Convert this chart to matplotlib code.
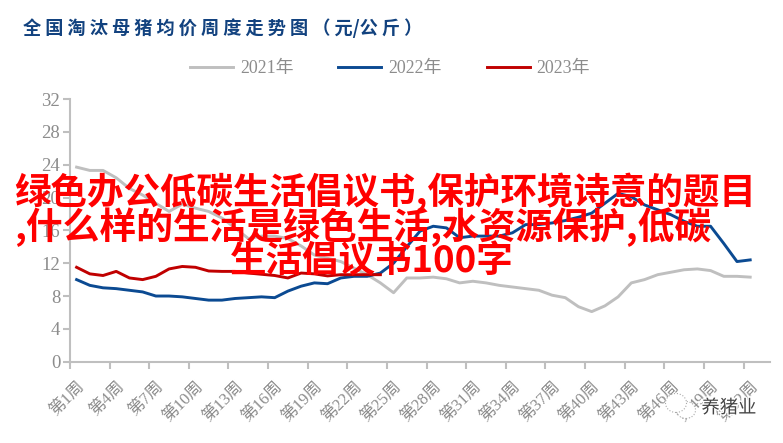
import matplotlib
matplotlib.use("Agg")
import matplotlib.pyplot as plt
import matplotlib.patheffects as pe
import matplotlib.transforms as mtrans
from matplotlib.patches import Ellipse
import numpy as np

SERIF = ['Liberation Serif', 'Noto Sans CJK SC']
CJK = ['Noto Sans CJK SC', 'DejaVu Sans']

title = "全国淘汰母猪均价周度走势图（元/公斤）"
overlay = ["绿色办公低碳生活倡议书,保护环境诗意的题目",
           ",什么样的生活是绿色生活,水资源保护,低碳",
           "生活倡议书100字"]
watermark = "养猪业"

weeks = list(range(1, 54))
y_ticks = [0, 4, 8, 12, 16, 20, 24, 28, 32]

y2021 = [23.7, 23.3, 23.3, 22.4, 21.1, 20.3, 19.3, 18.3, 19.2, 18.7, 18.3, 17.5, 16.3,
         15.0, 15.3, 15.3, 15.0, 14.1, 13.0, 12.6, 12.2, 11.4, 10.6, 9.6, 8.4, 10.2,
         10.2, 10.3, 10.1, 9.6, 9.8, 9.6, 9.3, 9.1, 8.9, 8.7, 8.1, 7.8, 6.7, 6.1,
         6.8, 7.9, 9.6, 10.0, 10.6, 10.9, 11.2, 11.3, 11.1, 10.4, 10.4, 10.3]
y2022 = [10.0, 9.3, 9.0, 8.9, 8.7, 8.5, 8.0, 8.0, 7.9, 7.7, 7.5, 7.5, 7.7, 7.8, 7.9,
         7.8, 8.6, 9.2, 9.6, 9.5, 10.2, 10.4, 10.4, 10.8, 12.0, 14.0, 15.9, 16.5,
         16.3, 15.1, 15.3, 15.3, 15.3, 15.7, 16.7, 16.7, 16.9, 17.2, 17.6, 18.1, 19.3,
         20.5, 20.1, 19.1, 18.5, 17.9, 17.1, 16.5, 16.5, 14.4, 12.2, 12.4]
y2023 = [11.5, 10.7, 10.5, 11.0, 10.2, 10.0, 10.4, 11.3, 11.6, 11.5, 11.05, 11.0, 11.0,
         10.8, 10.65, 10.5, 10.2, 10.8, 10.7, 10.45, 10.6, 10.6, 10.6, 10.6]

W, H = 783, 443
fig = plt.figure(figsize=(W / 100, H / 100), dpi=100)
ax = fig.add_axes([70 / W, (H - 361.7) / H, 700 / W, 262.7 / H])

l1, = ax.plot(weeks[:len(y2021)], y2021, color='#bfbfbf', lw=2.1, label='2021年')
l2, = ax.plot(weeks[:len(y2022)], y2022, color='#0b4a92', lw=2.1, label='2022年')
l3, = ax.plot(weeks[:len(y2023)], y2023, color='#c00000', lw=2.1, label='2023年')

ax.set_xlim(0.5, 53.5)
ax.set_ylim(0, 32)
ax.set_yticks(y_ticks)
ax.set_xticks(weeks[::3])
ax.set_xticklabels(['第{}周'.format(w) for w in weeks[::3]], rotation=45, ha='right',
                   va='top', rotation_mode='anchor', family=SERIF, fontsize=12, color='#8c8c8c')
# labels sit a little left of their week
shift = mtrans.ScaledTranslation(-5 / 100, 0, fig.dpi_scale_trans)
for lab in ax.get_xticklabels():
    lab.set_transform(lab.get_transform() + shift)
ax.set_xticks(np.arange(0.5, 54, 3), minor=True)
ax.tick_params(axis='x', which='major', length=0, pad=12)
ax.tick_params(axis='x', which='minor', length=5, width=1.5, color='#bfbfbf')
ax.tick_params(axis='y', length=5, width=1.5, color='#bfbfbf', pad=2, labelsize=13.5, labelcolor='#8c8c8c')
for lab in ax.get_yticklabels():
    lab.set_family(SERIF)
for s in ['top', 'right']:
    ax.spines[s].set_visible(False)
for s in ['left', 'bottom']:
    ax.spines[s].set_color('#bfbfbf')
    ax.spines[s].set_linewidth(1.5)

fig.legend(handles=[l1, l2, l3], loc='center', bbox_to_anchor=(390 / W, (H - 69) / H), ncol=3,
           frameon=False, prop={'family': SERIF, 'size': 12.9}, labelcolor='#8c8c8c',
           handlelength=2.4, handletextpad=0.4, columnspacing=2.5)

fig.text(23 / W, (H - 28) / H, " ".join(title).replace("/ ", "/").replace(" /", "/"), family=CJK,
         fontsize=13.1, fontweight='bold', color='#12427f', va='center', ha='left')

# watermark, bottom right
fig.add_artist(Ellipse((686 / W, (H - 410) / H), 19 / W, 17 / H, fc='white', ec='#aaaaaa', lw=0.8, ls=':'))
fig.add_artist(Ellipse((676 / W, (H - 403) / H), 21 / W, 19 / H, fc='white', ec='#aaaaaa', lw=0.8, ls=':'))
fig.text(729 / W, (H - 408) / H, watermark, family=CJK, fontsize=13.2, color='#444444', ha='center',
         va='center', path_effects=[pe.withStroke(linewidth=2, foreground='white')])

# big red text across the chart
overlay_x = [14, 14, 230]
overlay_y = [192, 227, 262]
for txt, x, y, size in zip(overlay, overlay_x, overlay_y, [26.3, 26.5, 26.3]):
    fig.text(x / W, (H - y) / H, txt, family=CJK, fontsize=size, fontweight='bold', color='#ff0000',
             ha='left', va='center', zorder=10)

fig.savefig('out.png', dpi=100)
